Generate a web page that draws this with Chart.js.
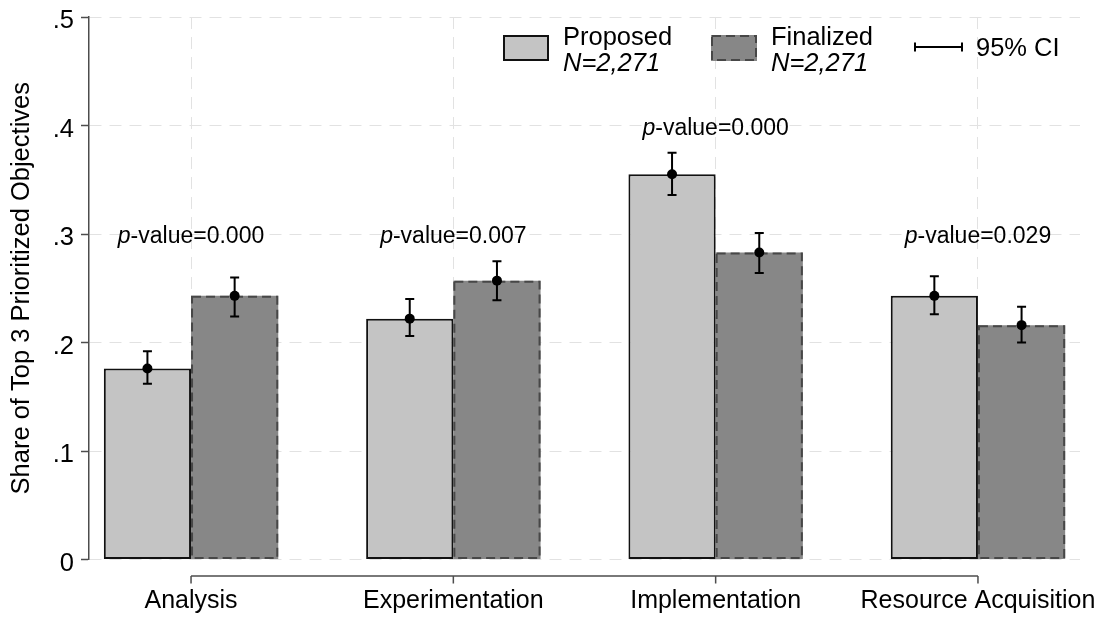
<!DOCTYPE html>
<html>
<head>
<meta charset="utf-8">
<title>Share of Top 3 Prioritized Objectives</title>
<script src="https://cdn.jsdelivr.net/npm/chart.js@4/dist/chart.umd.min.js"></script>
<style>
  html, body { margin: 0; padding: 0; background: #ffffff; }
  #wrap { width: 1103px; height: 618px; position: relative; }
</style>
</head>
<body>
<div id="wrap"><canvas id="chart" width="1103" height="618"></canvas></div>
<script>
// Objective categories
const categories = ['Analysis', 'Experimentation', 'Implementation', 'Resource Acquisition'];

// Proposed objectives: share and 95% CI bounds
const proposed   = [0.176, 0.222, 0.355, 0.243];
const proposedLo = [0.162, 0.206, 0.336, 0.226];
const proposedHi = [0.192, 0.240, 0.375, 0.261];

// Finalized objectives: share and 95% CI bounds
const finalized   = [0.243, 0.257, 0.283, 0.216];
const finalizedLo = [0.224, 0.239, 0.264, 0.200];
const finalizedHi = [0.260, 0.275, 0.301, 0.233];

// Test of difference between proposed and finalized
const pValues = ['0.000', '0.007', '0.000', '0.029'];

// Y axis ticks
const yTicks = [0, 0.1, 0.2, 0.3, 0.4, 0.5];
const yTickLabels = ['0', '.1', '.2', '.3', '.4', '.5'];

// Legend text
const seriesNames = ['Proposed', 'Finalized'];
const sampleSizes = ['N=2,271', 'N=2,271'];
const ciLabel = '95% CI';

const FONT = '"Liberation Sans", Arial, Helvetica, sans-serif';
const AXIS_COLOR = '#4d4d4d';
const GRID_COLOR = '#e2e2e2';
const PROPOSED_FILL = '#c4c4c4';
const FINALIZED_FILL = '#878787';
const FINALIZED_EDGE = '#474747';

const toPoints = vals => vals.map((v, i) => ({ x: i + 1, y: v }));

// Dashed outline for finalized bars, CI whiskers, mean markers and p-value labels
const overlayPlugin = {
  id: 'overlay',
  afterDatasetsDraw(chart) {
    const ctx = chart.ctx;
    const xs = chart.scales.x;
    const ys = chart.scales.y;

    // dashed outline on finalized bars
    const finMeta = chart.getDatasetMeta(1);
    ctx.save();
    ctx.setLineDash([9, 5]);
    ctx.strokeStyle = FINALIZED_EDGE;
    ctx.lineWidth = 2;
    finMeta.data.forEach(el => {
      const p = el.getProps(['x', 'y', 'base', 'width'], true);
      const left = p.x - p.width / 2;
      ctx.strokeRect(left + 1, p.y + 1, p.width - 2, p.base - p.y - 2);
    });
    ctx.restore();

    // whiskers + markers
    const series = [
      { mean: proposed, lo: proposedLo, hi: proposedHi },
      { mean: finalized, lo: finalizedLo, hi: finalizedHi }
    ];
    ctx.save();
    ctx.strokeStyle = '#000';
    ctx.fillStyle = '#000';
    ctx.lineWidth = 2;
    ctx.setLineDash([]);
    series.forEach((s, d) => {
      const meta = chart.getDatasetMeta(d);
      meta.data.forEach((el, i) => {
        const x = el.x;
        const yLo = ys.getPixelForValue(s.lo[i]);
        const yHi = ys.getPixelForValue(s.hi[i]);
        const cap = 4.5;
        ctx.beginPath();
        ctx.moveTo(x, yLo); ctx.lineTo(x, yHi);
        ctx.moveTo(x - cap, yLo); ctx.lineTo(x + cap, yLo);
        ctx.moveTo(x - cap, yHi); ctx.lineTo(x + cap, yHi);
        ctx.stroke();
        ctx.beginPath();
        ctx.arc(x, ys.getPixelForValue(s.mean[i]), 5, 0, Math.PI * 2);
        ctx.fill();
      });
    });
    ctx.restore();

    // p-value labels placed on the gridline just above the higher CI
    ctx.save();
    ctx.fillStyle = '#000';
    ctx.textBaseline = 'alphabetic';
    categories.forEach((c, i) => {
      const top = Math.max(proposedHi[i], finalizedHi[i]);
      const level = Math.ceil(top * 10 - 1e-9) / 10;
      const cx = xs.getPixelForValue(i + 1);
      const cy = ys.getPixelForValue(level) + 9;
      ctx.font = 'italic 23px ' + FONT;
      const wP = ctx.measureText('p').width;
      ctx.font = '23px ' + FONT;
      const rest = '-value=' + pValues[i];
      const wR = ctx.measureText(rest).width;
      const start = cx - (wP + wR) / 2;
      ctx.font = 'italic 23px ' + FONT;
      ctx.textAlign = 'left';
      ctx.fillText('p', start, cy);
      ctx.font = '23px ' + FONT;
      ctx.fillText(rest, start + wP, cy);
    });
    ctx.restore();
  },
  afterDraw(chart) {
    const ctx = chart.ctx;
    const xs = chart.scales.x;
    const area = chart.chartArea;

    // detached x axis line spanning first to last category
    const axisY = area.bottom + 16.5;
    const x0 = xs.getPixelForValue(1);
    const x1 = xs.getPixelForValue(categories.length);
    ctx.save();
    ctx.strokeStyle = AXIS_COLOR;
    ctx.lineWidth = 1.5;
    ctx.beginPath();
    ctx.moveTo(x0, axisY); ctx.lineTo(x1, axisY);
    categories.forEach((c, i) => {
      const tx = xs.getPixelForValue(i + 1);
      ctx.moveTo(tx, axisY); ctx.lineTo(tx, axisY + 7.5);
    });
    ctx.stroke();
    ctx.restore();

    // legend
    ctx.save();
    ctx.textAlign = 'left';
    ctx.textBaseline = 'alphabetic';
    ctx.fillStyle = '#000';
    const boxW = 46, boxH = 26, boxTop = 35;
    const items = [
      { x: 503, fill: PROPOSED_FILL, dashed: false },
      { x: 711, fill: FINALIZED_FILL, dashed: true }
    ];
    items.forEach((it, k) => {
      ctx.fillStyle = it.fill;
      ctx.fillRect(it.x, boxTop, boxW, boxH);
      ctx.lineWidth = 2;
      if (it.dashed) {
        ctx.setLineDash([9, 5]);
        ctx.strokeStyle = FINALIZED_EDGE;
      } else {
        ctx.setLineDash([]);
        ctx.strokeStyle = '#111';
      }
      ctx.strokeRect(it.x + 1, boxTop + 1, boxW - 2, boxH - 2);
      ctx.setLineDash([]);
      ctx.fillStyle = '#000';
      ctx.font = '25.5px ' + FONT;
      ctx.fillText(seriesNames[k], it.x + 60, 45);
      ctx.font = 'italic 25.5px ' + FONT;
      ctx.fillText(sampleSizes[k], it.x + 60, 71);
    });
    // CI key
    const ciY = 47;
    ctx.strokeStyle = '#000';
    ctx.lineWidth = 2;
    ctx.beginPath();
    ctx.moveTo(915, ciY); ctx.lineTo(962, ciY);
    ctx.moveTo(915, ciY - 4.5); ctx.lineTo(915, ciY + 4.5);
    ctx.moveTo(962, ciY - 4.5); ctx.lineTo(962, ciY + 4.5);
    ctx.stroke();
    ctx.font = '25.5px ' + FONT;
    ctx.fillText(ciLabel, 976, 56);
    ctx.restore();
  }
};

new Chart(document.getElementById('chart'), {
  type: 'bar',
  data: {
    datasets: [
      {
        label: seriesNames[0],
        data: toPoints(proposed),
        backgroundColor: PROPOSED_FILL,
        borderColor: '#111111',
        borderWidth: 2,
        borderSkipped: false,
        categoryPercentage: 0.665,
        barPercentage: 1.0
      },
      {
        label: seriesNames[1],
        data: toPoints(finalized),
        backgroundColor: FINALIZED_FILL,
        borderWidth: 0,
        categoryPercentage: 0.665,
        barPercentage: 1.0
      }
    ]
  },
  options: {
    responsive: false,
    devicePixelRatio: 1,
    animation: false,
    layout: { padding: { top: 17, right: 23, bottom: 0, left: 0 } },
    plugins: {
      legend: { display: false },
      tooltip: { enabled: false }
    },
    scales: {
      x: {
        type: 'linear',
        min: 0.611,
        max: 4.389,
        offset: false,
        afterBuildTicks: s => { s.ticks = categories.map((c, i) => ({ value: i + 1 })); },
        afterFit: s => { s.height = 58.5; s.paddingLeft = 0; s.paddingRight = 0; },
        ticks: {
          autoSkip: false,
          maxRotation: 0,
          minRotation: 0,
          padding: 26.5,
          color: '#000',
          font: { family: FONT, size: 25, lineHeight: 1.2 },
          callback: v => categories[Math.round(v) - 1]
        },
        grid: { color: GRID_COLOR, lineWidth: 1, drawTicks: false, offset: false },
        border: { display: false, dash: [12, 8] }
      },
      y: {
        min: 0,
        max: 0.5,
        afterBuildTicks: s => { s.ticks = yTicks.map(v => ({ value: v })); },
        afterFit: s => { s.width = 89; s.paddingTop = 0; s.paddingBottom = 0; },
        ticks: {
          padding: 7,
          labelOffset: 4,
          color: '#000',
          font: { family: FONT, size: 25.5, lineHeight: 1.2 },
          callback: (v, i) => yTickLabels[i]
        },
        grid: {
          color: GRID_COLOR,
          lineWidth: 1,
          drawTicks: true,
          tickLength: 8,
          tickColor: AXIS_COLOR,
          tickWidth: 1.5,
          tickBorderDash: []
        },
        border: { display: true, color: AXIS_COLOR, width: 1.5, dash: [12, 8] },
        title: {
          display: true,
          text: 'Share of Top 3 Prioritized Objectives',
          color: '#000',
          font: { family: FONT, size: 25.5, lineHeight: 1.2 },
          padding: { top: 7, bottom: 0 }
        }
      }
    }
  },
  plugins: [overlayPlugin]
});
</script>
</body>
</html>
